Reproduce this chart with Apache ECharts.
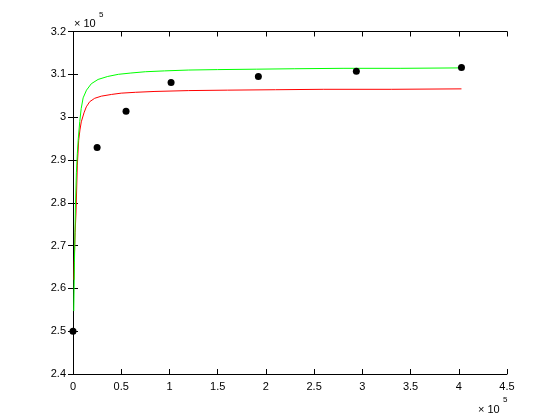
<!DOCTYPE html>
<html>
<head>
<meta charset="utf-8">
<script src="https://cdn.jsdelivr.net/npm/echarts@6/dist/echarts.min.js"></script>
<style>
html,body{margin:0;padding:0;background:#fff;}
#chart{width:560px;height:420px;}
</style>
</head>
<body>
<div id="chart"></div>
<script>
// values in units of 1e5
var xTicks = [0, 0.5, 1, 1.5, 2, 2.5, 3, 3.5, 4, 4.5];
var yTicks = [2.4, 2.5, 2.6, 2.7, 2.8, 2.9, 3, 3.1, 3.2];

var measuredX = [0, 0.25, 0.55, 1.017, 1.922, 2.938, 4.028];
var measuredY = [2.5, 2.929, 3.0135, 3.081, 3.095, 3.107, 3.116];

var greenX = [0.008, 0.015, 0.025, 0.035, 0.045, 0.055, 0.07, 0.085, 0.105, 0.14, 0.19, 0.26, 0.36, 0.47, 0.6, 0.75, 0.95, 1.2, 1.5, 1.9, 2.3, 2.8, 3.4, 4.028];
var greenY = [2.547, 2.66, 2.79, 2.87, 2.915, 2.95, 2.99, 3.02, 3.045, 3.063, 3.078, 3.088, 3.095, 3.100, 3.103, 3.106, 3.108, 3.110, 3.111, 3.112, 3.113, 3.114, 3.114, 3.115];

var redX = [0.01, 0.013, 0.022, 0.031, 0.045, 0.059, 0.072, 0.086, 0.114, 0.138, 0.173, 0.225, 0.294, 0.4, 0.5, 0.65, 0.85, 1.2, 1.6, 2.1, 2.6, 3.3, 4.028];
var redY = [2.62, 2.664, 2.73, 2.776, 2.888, 2.946, 2.97, 2.989, 3.010, 3.024, 3.036, 3.044, 3.049, 3.053, 3.056, 3.058, 3.060, 3.062, 3.063, 3.064, 3.065, 3.065, 3.066];

function pairs(xs, ys) { return xs.map(function (x, i) { return [x, ys[i]]; }); }

var FONT = 'Liberation Sans';
var chart = echarts.init(document.getElementById('chart'), null, {renderer: 'canvas'});

function fmt(v) { return String(+v.toFixed(1)); }

var axisCommon = {
  type: 'value',
  splitLine: {show: false},
  axisLine: {show: true, lineStyle: {color: '#000', width: 1}},
  axisTick: {show: true, inside: true, length: 5, lineStyle: {color: '#000', width: 1}}
};

chart.setOption({
  animation: false,
  backgroundColor: '#fff',
  grid: {left: 73, right: 53, top: 31.5, bottom: 46, show: false},
  xAxis: [
    Object.assign({}, axisCommon, {
      min: xTicks[0], max: xTicks[xTicks.length - 1], interval: 0.5, position: 'bottom',
      axisLabel: {color: '#000', fontFamily: FONT, fontSize: 11, margin: 7, formatter: fmt}
    }),
    Object.assign({}, axisCommon, {
      min: xTicks[0], max: xTicks[xTicks.length - 1], interval: 0.5, position: 'top',
      axisLabel: {show: false}
    })
  ],
  yAxis: [
    Object.assign({}, axisCommon, {
      min: yTicks[0], max: yTicks[yTicks.length - 1], interval: 0.1, position: 'left',
      axisLabel: {color: '#000', fontFamily: FONT, fontSize: 11, margin: 7, formatter: fmt}
    }),
    Object.assign({}, axisCommon, {
      min: yTicks[0], max: yTicks[yTicks.length - 1], interval: 0.1, position: 'right',
      axisLabel: {show: false}
    })
  ],
  series: [
    {
      type: 'line', data: pairs(redX, redY), showSymbol: false, symbol: 'none',
      lineStyle: {color: '#ff0000', width: 1}, z: 2
    },
    {
      type: 'line', data: pairs(greenX, greenY), showSymbol: false, symbol: 'none',
      lineStyle: {color: '#00ff00', width: 1}, z: 3
    },
    {
      type: 'scatter', data: pairs(measuredX, measuredY), symbol: 'circle', symbolSize: 7,
      itemStyle: {color: '#000', opacity: 1}, z: 4
    }
  ],
  graphic: [
    {type: 'text', left: 74, top: 18, style: {text: '× 10', fill: '#000', font: '11px "Liberation Sans"'}},
    {type: 'text', left: 99, top: 11, style: {text: '5', fill: '#000', font: '8px "Liberation Sans"'}},
    {type: 'text', left: 478, top: 404, style: {text: '× 10', fill: '#000', font: '11px "Liberation Sans"'}},
    {type: 'text', left: 503, top: 396, style: {text: '5', fill: '#000', font: '8px "Liberation Sans"'}}
  ]
});
</script>
</body>
</html>
